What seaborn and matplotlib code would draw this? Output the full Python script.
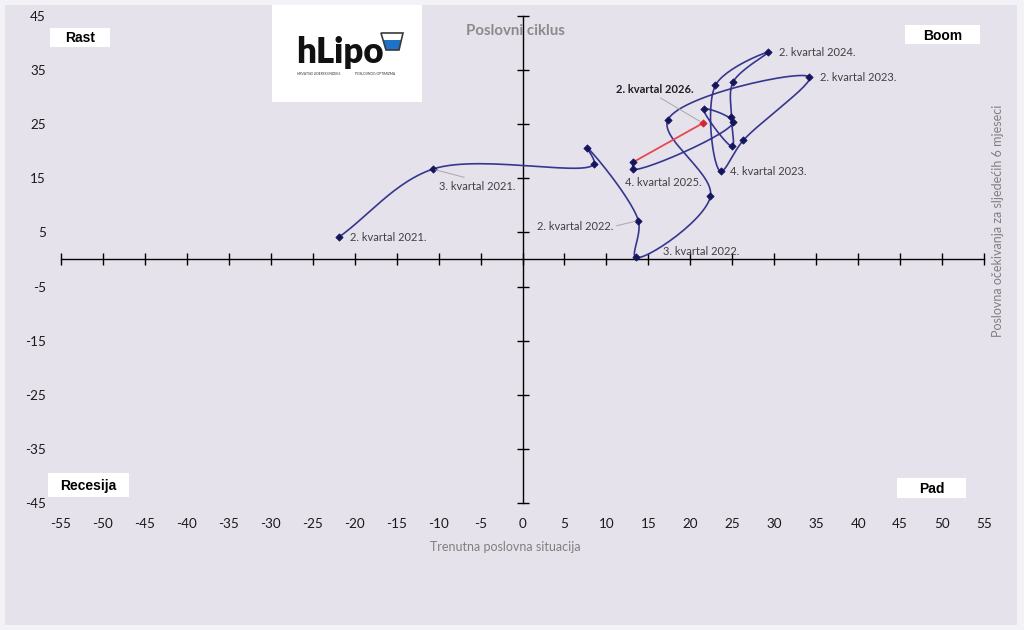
import numpy as np
import pandas as pd
import matplotlib
matplotlib.use("Agg")
import matplotlib.pyplot as plt
from matplotlib import patches
import seaborn as sns

# ---------------- data ----------------
quarters = ["2. kvartal 2021.", "3. kvartal 2021.", "4. kvartal 2021.",
            "1. kvartal 2022.", "2. kvartal 2022.", "3. kvartal 2022.", "4. kvartal 2022.",
            "1. kvartal 2023.", "2. kvartal 2023.", "3. kvartal 2023.", "4. kvartal 2023.",
            "1. kvartal 2024.", "2. kvartal 2024.", "3. kvartal 2024.", "4. kvartal 2024.",
            "1. kvartal 2025.", "2. kvartal 2025.", "3. kvartal 2025.", "4. kvartal 2025.",
            "1. kvartal 2026.", "2. kvartal 2026."]
current = [-21.9, -10.7, 8.5, 7.7, 13.8, 13.5, 22.4,
           17.3, 34.2, 26.3, 23.6,
           23.0, 29.3, 25.1, 24.9,
           25.0, 21.6, 25.1, 13.2,
           13.2, 21.5]
expectations = [4.1, 16.7, 17.6, 20.6, 7.2, 0.4, 11.7,
                25.7, 33.7, 22.0, 16.3,
                32.2, 38.3, 32.8, 26.3,
                20.9, 27.8, 25.4, 16.7,
                18.0, 25.2]
x_ticks = list(range(-55, 56, 5))
y_ticks = list(range(-45, 46, 10))
quadrants = ["Rast", "Boom", "Recesija", "Pad"]
title = "Poslovni ciklus"
x_title = "Trenutna poslovna situacija"
y_title = "Poslovna očekivanja za sljedećih 6 mjeseci"

W, H = 1024, 630
NAVY_LINE = "#36368F"
NAVY_MARK = "#15155C"
RED = "#E8474E"
BG = "#E5E2EC"

sns.set_style("white")
plt.rcParams["font.family"] = ["Lato", "DejaVu Sans"]
plt.rcParams["axes.unicode_minus"] = False


def fx(px):
    return px / W


def fy(py):
    return 1 - py / H


def smooth(xs, ys, n=30, sx=8.39, sy=5.4):
    """centripetal Catmull-Rom rendering of a polyline (drawing style only)"""
    P = np.column_stack([np.asarray(xs, float) * sx, np.asarray(ys, float) * sy])
    P = np.vstack([2 * P[0] - P[1], P, 2 * P[-1] - P[-2]])
    out = []
    for i in range(1, len(P) - 2):
        p0, p1, p2, p3 = P[i - 1], P[i], P[i + 1], P[i + 2]
        t0 = 0.0
        t1 = t0 + max(np.linalg.norm(p1 - p0), 1e-6) ** 0.5
        t2 = t1 + max(np.linalg.norm(p2 - p1), 1e-6) ** 0.5
        t3 = t2 + max(np.linalg.norm(p3 - p2), 1e-6) ** 0.5
        t = np.linspace(t1, t2, n)[:, None]
        A1 = (t1 - t) / (t1 - t0) * p0 + (t - t0) / (t1 - t0) * p1
        A2 = (t2 - t) / (t2 - t1) * p1 + (t - t1) / (t2 - t1) * p2
        A3 = (t3 - t) / (t3 - t2) * p2 + (t - t2) / (t3 - t2) * p3
        B1 = (t2 - t) / (t2 - t0) * A1 + (t - t0) / (t2 - t0) * A2
        B2 = (t3 - t) / (t3 - t1) * A2 + (t - t1) / (t3 - t1) * A3
        C = (t2 - t) / (t2 - t1) * B1 + (t - t1) / (t2 - t1) * B2
        out.append(C if i == 1 else C[1:])
    R = np.vstack(out)
    return R[:, 0] / sx, R[:, 1] / sy


fig = plt.figure(figsize=(W / 100, H / 100), dpi=100)
fig.patch.set_facecolor("#F3F2F6")
fig.patches.append(patches.Rectangle((fx(5), fy(625)), 1012 / W, 620 / H,
                                     transform=fig.transFigure, facecolor=BG,
                                     edgecolor="none", zorder=-10))

ax = fig.add_axes([fx(61), fy(503), 923 / W, 487 / H])
ax.set_zorder(1)
ax.set_facecolor("none")
ax.set_xlim(-55, 55)
ax.set_ylim(-45, 45)
for s in ax.spines.values():
    s.set_visible(False)
ax.set_xticks(x_ticks)
ax.set_yticks(y_ticks)
ax.set_xticklabels([str(v) for v in x_ticks])
ax.set_yticklabels([str(v) for v in y_ticks])
ax.tick_params(axis="x", length=0, labelsize=9.7, labelcolor="#1a1a1a", pad=11)
ax.tick_params(axis="y", length=0, labelsize=9.7, labelcolor="#1a1a1a", pad=11)
ax.grid(False)

# axis lines through the origin with crossing tick marks
secx = ax.secondary_xaxis(0.5)
secx.set_xticks(x_ticks)
secx.tick_params(axis="x", direction="inout", length=9, width=1, color="black",
                 labeltop=False, labelbottom=False)
secy = ax.secondary_yaxis(0.5)
secy.set_yticks(y_ticks)
secy.tick_params(axis="y", direction="inout", length=9, width=1, color="black",
                 labelleft=False, labelright=False)
for sec in (secx, secy):
    for sp in sec.spines.values():
        sp.set_color("black")
        sp.set_linewidth(1.0)

# ---- series ----
df = pd.DataFrame({"quarter": quarters, "current": current, "expect": expectations})
main = df.iloc[:-1]
last = df.iloc[-2:]
cx, cy = smooth(main["current"], main["expect"])
sns.lineplot(x=cx, y=cy, sort=False, estimator=None, color=NAVY_LINE, lw=1.2, ax=ax)
sns.lineplot(data=last, x="current", y="expect", sort=False, estimator=None,
             color=RED, lw=1.3, ax=ax)
sns.scatterplot(data=main, x="current", y="expect", marker="D", s=14, color=NAVY_MARK,
                edgecolor=NAVY_MARK, linewidth=0.5, zorder=5, ax=ax)
sns.scatterplot(data=df.iloc[-1:], x="current", y="expect", marker="D", s=14, color="#D42530",
                edgecolor="#D42530", linewidth=0.5, zorder=6, ax=ax)
ax.set_xlabel(x_title, color="#808080", fontsize=9)
ax.set_ylabel(y_title, color="#808080", fontsize=9)
ax.xaxis.set_label_coords((505 - 61) / 923, -(547 - 503) / 487)
ax.xaxis.label.set_va("center")
ax.yaxis.set_label_coords((998 - 61) / 923, (503 - 221) / 487)
ax.yaxis.label.set_va("center")
ax.set_title(title, x=(515 - 61) / 923, y=(503 - 31) / 487, pad=0, va="center",
             fontsize=10.8, fontweight="bold", color="#8a8a8a")

# ---- data labels ----
LBL = "#404040"
GREY = "#A8A8A8"
label_style = {
    0: dict(off=(11, 0), ha="left"),
    1: dict(off=(6, -17), ha="left", lead=(0.5, 1)),
    4: dict(off=(-25, -6), ha="right", lead=(1, 0.5)),
    5: dict(off=(27, 6), ha="left"),
    8: dict(off=(11, 0), ha="left"),
    10: dict(off=(9, 0), ha="left"),
    12: dict(off=(11, 0), ha="left"),
    18: dict(off=(-8, -13), ha="left"),
    20: dict(off=(-48, 34), ha="center", lead=(0.5, 0), bold=True),
}
for i, st in label_style.items():
    kw = dict(textcoords="offset pixels", xytext=st["off"], ha=st["ha"], va="center",
              fontsize=8, color="#1f1f1f" if st.get("bold") else LBL,
              fontweight="bold" if st.get("bold") else "normal", zorder=7)
    if "lead" in st:
        kw["arrowprops"] = dict(arrowstyle="-", color=GREY, lw=0.7, shrinkA=0, shrinkB=2,
                                relpos=st["lead"])
    ax.annotate(quarters[i], xy=(current[i], expectations[i]), **kw)

# ---- quadrant boxes ----
boxes = [(50, 28, 110, 47), (905, 25, 980, 44), (48, 473, 129, 497), (897, 478, 966, 498)]
for name, (x0, y0, x1, y1) in zip(quadrants, boxes):
    fig.patches.append(patches.Rectangle((fx(x0), fy(y1)), (x1 - x0) / W, (y1 - y0) / H,
                                         transform=fig.transFigure, facecolor="white",
                                         edgecolor="none", zorder=3))
    fig.text(fx((x0 + x1) / 2), fy((y0 + y1) / 2 + 1), name, ha="center", va="center",
             fontsize=10, fontweight="bold", family=["Liberation Sans", "DejaVu Sans"],
             color="black", zorder=4)

# ---- logo ----
fig.patches.append(patches.Rectangle((fx(272), fy(102)), 150 / W, 97 / H,
                                     transform=fig.transFigure, facecolor="white",
                                     edgecolor="none", zorder=3))
fig.text(fx(296), fy(63), "hLipo", ha="left", va="baseline", fontsize=25,
         fontweight="heavy", color="#111111", zorder=4)
fig.text(fx(297), fy(74), "HRVATSKI LIDERSKI INDEKS", ha="left", va="center",
         fontsize=2.4, color="#333333", zorder=4)
fig.text(fx(355), fy(74), "POSLOVNOG OPTIMIZMA", ha="left", va="center",
         fontsize=2.4, color="#333333", zorder=4)
cup = [(381, 33), (403, 33), (399, 50), (386, 50)]
water = [(383, 40), (401, 40), (399, 50), (386, 50)]
fig.patches.append(patches.Polygon([(fx(a), fy(b)) for a, b in water], closed=True,
                                   transform=fig.transFigure, facecolor="#1E73C8",
                                   edgecolor="none", zorder=4))
fig.patches.append(patches.Polygon([(fx(a), fy(b)) for a, b in cup], closed=True,
                                   transform=fig.transFigure, facecolor="none",
                                   edgecolor="#3a3a3a", lw=1.2, zorder=5))

fig.savefig("out.png", dpi=100, facecolor=fig.get_facecolor())
